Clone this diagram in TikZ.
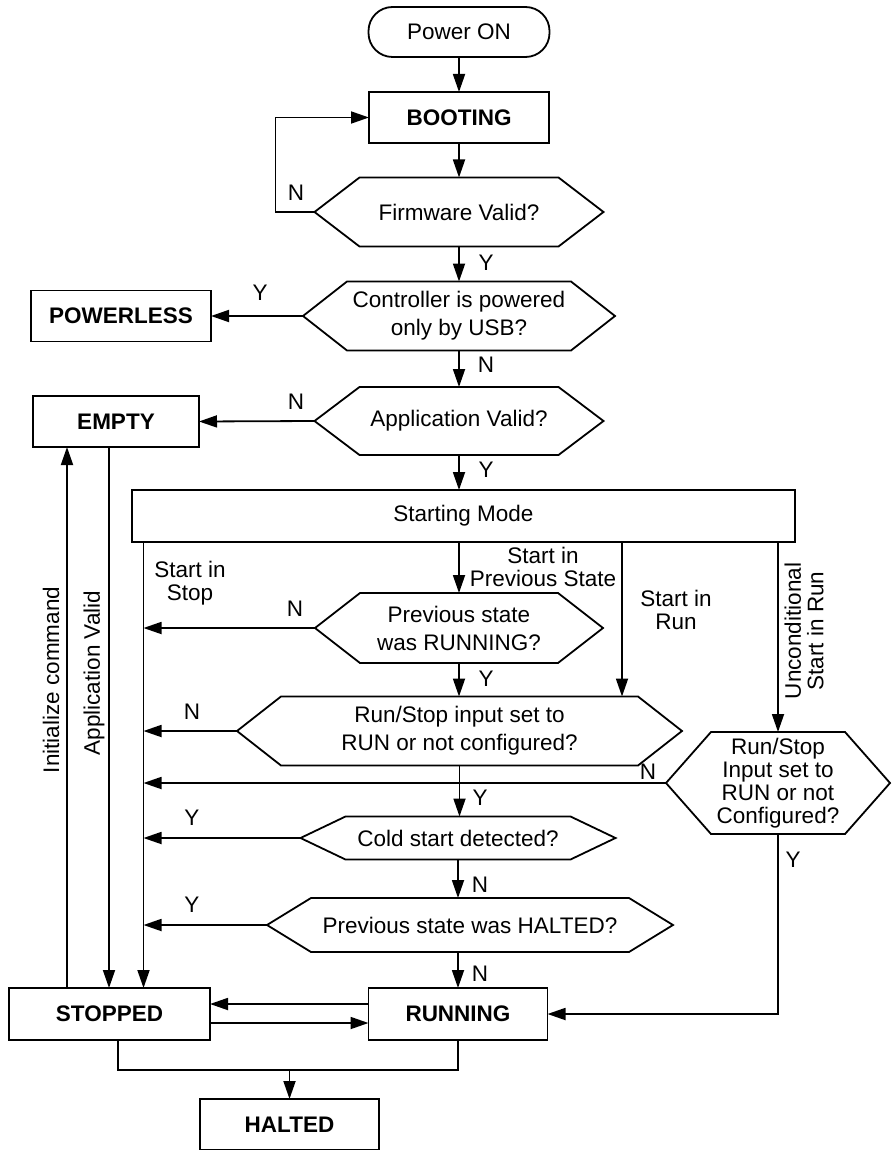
\documentclass[tikz,border=0pt]{standalone}
\usepackage{fontspec}
\setmainfont{Liberation Sans}
\usetikzlibrary{arrows.meta,positioning}

% hexagon outline over a decision node
\newcommand{\hexof}[2]{%
  \draw (#1.west) -- ([xshift=#2pt]#1.north west) -- ([xshift=-#2pt]#1.north east)
    -- (#1.east) -- ([xshift=-#2pt]#1.south east) -- ([xshift=#2pt]#1.south west) -- cycle;}

\begin{document}
\begin{tikzpicture}[x=1pt,y=-1pt,line width=1.8pt,>={Triangle[length=18pt,width=12pt]},
    font=\fontsize{22.5}{28}\selectfont,
    block/.style={draw,outer sep=0pt,minimum width=180,minimum height=51,
      font=\fontsize{22.5}{28}\selectfont\bfseries},
    term/.style={draw,outer sep=0pt,rounded corners=24,minimum width=181,minimum height=50},
    decision/.style={outer sep=0pt,inner sep=0pt,align=center},
    lbl/.style={align=center,font=\fontsize{22.5}{22.5}\selectfont}]

  \useasboundingbox (0,0) rectangle (891,1150);

  \node[term] (power) at (459,32) {Power ON};
  \node[block] (boot) at (459,117.5) {BOOTING};
  \node[decision,minimum width=289,minimum height=69] (fw) at (459,212) {Firmware Valid?};
  \hexof{fw}{45}
  \node[decision,minimum width=312,minimum height=69] (usb) at (459,316) {Controller is powered\\only by USB?};
  \hexof{usb}{44}
  \node[block] (powerless) at (121,316) {POWERLESS};
  \node[decision,minimum width=289,minimum height=68] (app) at (459,421) {Application Valid?};
  \hexof{app}{45}
  \node[block,minimum width=166] (empty) at (116,421.5) {EMPTY};
  \node[block,minimum width=663,minimum height=52,font=\fontsize{22.5}{28}\selectfont] (mode) at (463.5,516) {Starting Mode};
  \node[decision,minimum width=288,minimum height=70] (prev) at (459,628) {Previous state\\was RUNNING?};
  \hexof{prev}{45}
  \node[decision,minimum width=445,minimum height=69] (runin) at (459.5,731) {Run/Stop input set to\\RUN or not configured?};
  \hexof{runin}{44}
  \node[decision,minimum width=224,minimum height=102,font=\fontsize{22.5}{23}\selectfont] (runin2) at (778,783) {Run/Stop\\Input set to\\RUN or not\\Configured?};
  \hexof{runin2}{45}
  \node[decision,minimum width=315,minimum height=43] (cold) at (458,838) {Cold start detected?};
  \hexof{cold}{45}
  \node[decision,minimum width=406,minimum height=54] (wasHalt) at (470,925) {Previous state was HALTED?};
  \hexof{wasHalt}{44}
  \node[block,minimum width=201,minimum height=52] (stopped) at (109.5,1014) {STOPPED};
  \node[block,minimum width=179,minimum height=52] (running) at (458,1014) {RUNNING};
  \node[block,minimum width=179] (halted) at (289.5,1124.5) {HALTED};

  % columns
  \coordinate (stopcol) at ([xshift=34]stopped.north);
  \coordinate (runcol) at ([xshift=162.5]runin.north);
  \coordinate (appcol) at ([xshift=-7]empty.south);
  \coordinate (initcol) at ([xshift=-49]empty.south);
  \coordinate (joinpt) at ([yshift=29pt]halted.north);

  \draw[->] (power.south) -- (boot.north);
  \draw[->] (boot.south) -- (fw.north);
  \draw[->] (fw.west) -- ++(-39,0) |- (boot.west);
  \draw[->] (fw.south) -- (usb.north);
  \draw[->] (usb.west) -- (powerless.east);
  \draw[->] (usb.south) -- (app.north);
  \draw[->] (app.west) -- (empty.east);
  \draw[->] (app.south) -- (app.south |- mode.north);
  \draw[->] (stopcol |- mode.south) -- (stopcol);
  \draw[->] (mode.south -| prev.north) -- (prev.north);
  \draw[->] (runcol |- mode.south) -- (runcol);
  \draw[->] (mode.south -| runin2.north) -- (runin2.north);
  \draw[->] (prev.west) -- (prev.west -| stopcol);
  \draw[->] (prev.south) -- (prev.south |- runin.north);
  \draw[->] (runin.west) -- (runin.west -| stopcol);
  \draw[->] (runin2.west) -- (runin2.west -| stopcol);
  \draw[->] (runin.south) -- (runin.south |- cold.north);
  \draw[->] (cold.west) -- (cold.west -| stopcol);
  \draw[->] (cold.south) -- (cold.south |- wasHalt.north);
  \draw[->] (wasHalt.west) -- (wasHalt.west -| stopcol);
  \draw[->] (cold.south |- wasHalt.south) -- (running.north);
  \draw[->] (runin2.south) |- (running.east);
  \draw[->] ([yshift=10pt]running.west) -- ([yshift=10pt]running.west -| stopped.east);
  \draw[->] ([yshift=-9pt]stopped.east) -- ([yshift=-9pt]stopped.east -| running.west);
  \draw[->] (appcol) -- (appcol |- stopped.north);
  \draw[->] (initcol |- stopped.north) -- (initcol);
  \draw ([xshift=8.5]stopped.south) |- (joinpt) -| (running.south);
  \draw[->] (joinpt) -- (halted.north);

  % labels
  \node (fwN) at (296,193) {N};
  \node (fwY) at (486,263) {Y};
  \node (usbY) at (260,293) {Y};
  \node (usbN) at (486,365) {N};
  \node (appN) at (296,402) {N};
  \node (appY) at (486,470) {Y};
  \node[lbl] (inStop) at (190,583) {Start in\\Stop};
  \node[lbl] (inPrev) at (543,567) {Start in\\Previous State};
  \node[lbl] (inRun) at (676,610) {Start in\\Run};
  \node[lbl,rotate=90] (uncond) at (804,631) {Unconditional\\Start in Run};
  \node (prevN) at (295,609) {N};
  \node (prevY) at (486,679) {Y};
  \node (runinN) at (192,712) {N};
  \node (runin2N) at (648,772) {N};
  \node (runinY) at (480,798) {Y};
  \node (coldY) at (192,818) {Y};
  \node (runin2Y) at (793,860) {Y};
  \node (coldN) at (480,885) {N};
  \node (haltY) at (192,905) {Y};
  \node (haltN) at (480,974) {N};
  \node[rotate=90] (initLbl) at (51,680) {Initialize command};
  \node[rotate=90] (appLbl) at (94,673) {Application Valid};
\end{tikzpicture}
\end{document}
